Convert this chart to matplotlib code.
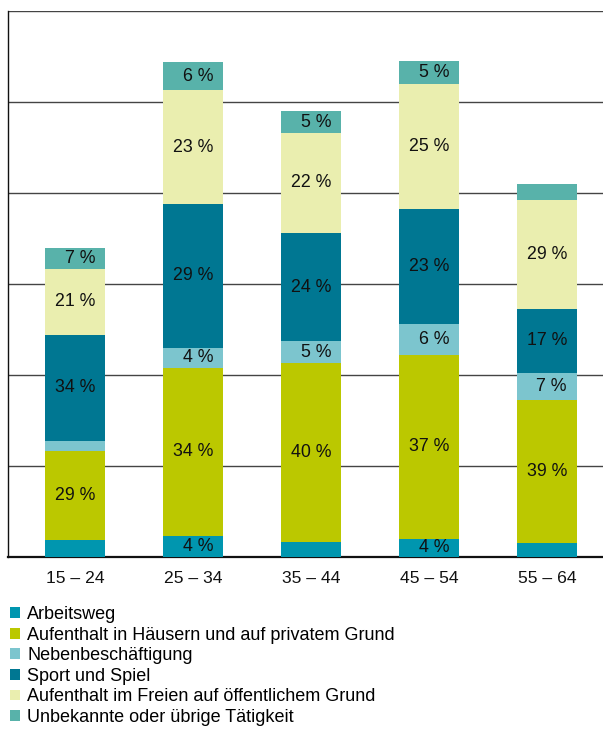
import matplotlib
matplotlib.use("Agg")
import matplotlib.pyplot as plt
from matplotlib.patches import Patch

plt.rcParams['font.family'] = ['Liberation Sans', 'DejaVu Sans']

categories = ["15 – 24", "25 – 34", "35 – 44", "45 – 54", "55 – 64"]
series_names = [
    "Arbeitsweg",
    "Aufenthalt in Häusern und auf privatem Grund",
    "Nebenbeschäftigung",
    "Sport und Spiel",
    "Aufenthalt im Freien auf öffentlichem Grund",
    "Unbekannte oder übrige Tätigkeit",
]
colors = ["#0096AF", "#BBC800", "#7CC5CE", "#007792", "#EAEEAF", "#58B2AA"]

# segment values (arbitrary units), per series across age groups
arbeitsweg = [19, 23, 16, 20, 15]
haeuser = [98, 185, 197, 202, 158]
neben = [11, 22, 24, 34, 29]
sport = [116, 158, 119, 126, 71]
freien = [73, 125, 110, 138, 119]
unbekannt = [23, 31, 24, 25, 18]

# percentage labels shown in the chart (None = no label)
pct_arbeitsweg = [None, 4, None, 4, None]
pct_haeuser = [29, 34, 40, 37, 39]
pct_neben = [None, 4, 5, 6, 7]
pct_sport = [34, 29, 24, 23, 17]
pct_freien = [21, 23, 22, 25, 29]
pct_unbekannt = [7, 6, 5, 5, None]

values = [arbeitsweg, haeuser, neben, sport, freien, unbekannt]
pcts = [pct_arbeitsweg, pct_haeuser, pct_neben, pct_sport, pct_freien, pct_unbekannt]

fig = plt.figure(figsize=(6.03, 7.29), dpi=100)
ax = fig.add_axes([8/603, (729-557)/729, 1 - 8/603, (557-11)/729])

x = list(range(len(categories)))
width = 60/118
bottoms = [0]*len(categories)
for vals, pc, col, name in zip(values, pcts, colors, series_names):
    ax.bar(x, vals, width=width, bottom=bottoms, color=col, label=name, zorder=3, linewidth=0)
    for i in range(len(categories)):
        if pc[i] is not None:
            ax.text(x[i] + 20/118, bottoms[i] + vals[i]/2, f"{pc[i]} %", ha='right', va='center',
                    fontsize=12.8, color='#111111', zorder=4)
    bottoms = [b + v for b, v in zip(bottoms, vals)]

ax.set_xlim((8-75)/118, (603-75)/118)
ax.set_ylim(0, 600)
ax.set_yticks([100, 200, 300, 400, 500, 600])
ax.yaxis.grid(True, color='#444444', linewidth=1.0, zorder=0)
ax.set_axisbelow(True)
ax.tick_params(axis='y', length=0, labelleft=False)
ax.tick_params(axis='x', length=0, pad=10, labelsize=12.6, colors='#111111')
ax.set_xticks(x)
ax.set_xticklabels(categories)
for s in ['right', 'top']:
    ax.spines[s].set_visible(False)
ax.spines['left'].set_linewidth(1.0)
ax.spines['left'].set_color('#111111')
ax.spines['bottom'].set_linewidth(1.6)
ax.spines['bottom'].set_color('#111111')

handles = [Patch(facecolor=c, edgecolor='none') for c in colors]
fig.legend(handles, series_names, loc='upper left', bbox_to_anchor=(10/603, 1 - 606/729),
           frameon=False, fontsize=13, handlelength=0.55, handleheight=0.55,
           handletextpad=0.4, labelspacing=0.2, borderpad=0, borderaxespad=0)

fig.savefig("out.png", dpi=100)
